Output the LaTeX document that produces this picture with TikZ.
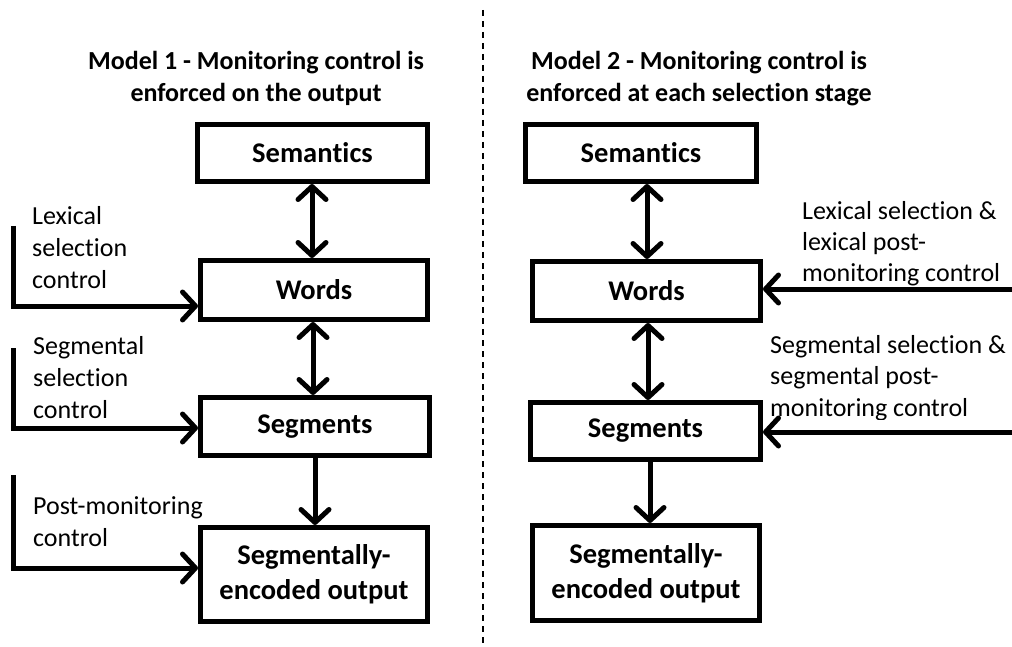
\documentclass[tikz,border=0pt]{standalone}
\usepackage{fontspec}
\setmainfont{Carlito}[Ligatures={NoCommon,NoContextual},Contextuals=NoAlternate]
\usetikzlibrary{arrows.meta,calc}
\newcommand\nolig{\kern0pt{}}
\begin{document}
\begin{tikzpicture}[x=1pt,y=-1pt,
  >={Straight Barb[length=13pt,width=28pt,line width=5pt,round]},
  box/.style={draw,line width=5pt,rectangle,inner sep=0pt,align=center,
    font=\fontsize{28.5}{35}\selectfont\bfseries},
  lbl/.style={anchor=north west,inner sep=0pt,align=left,
    font=\fontsize{26}{32}\selectfont},
  ttl/.style={anchor=north,inner sep=0pt,align=center,
    font=\fontsize{26}{32}\selectfont\bfseries},
  one/.style={line width=5pt,->},
  two/.style={line width=5pt,<->}
]
\useasboundingbox (0,0) rectangle (1012,647);

% divider
\coordinate (dtop) at (483,10);
\coordinate (dbot) at (483,645);
\draw[line width=2.5pt,dash pattern=on 6pt off 5pt] (dtop) -- (dbot);

% titles
\node[ttl] (t1) at (256,51) {Model 1 - Monitoring control is\\enforced on the output};
\node[ttl] (t2) at (699,51) {Model 2 - Monitoring control is\\enforced at each selec\nolig tion stage};

% model 1 boxes
\node[box,minimum width=230pt,minimum height=57pt] (s1) at (312.5,153) {Seman\nolig tics};
\node[box,minimum width=227pt,minimum height=59pt] (w1) at (314,290) {Words};
\node[box,minimum width=229pt,minimum height=58pt] (g1) at (315,426.5) {Segments};
\node[box,minimum width=227pt,minimum height=94pt] (o1) at (314,574.5) {Segmentally-\\encoded output};

% model 2 boxes
\node[box,minimum width=231pt,minimum height=57pt] (s2) at (641,153) {Seman\nolig tics};
\node[box,minimum width=228pt,minimum height=59pt] (w2) at (646.5,291) {Words};
\node[box,minimum width=230pt,minimum height=57pt] (g2) at (645.5,431) {Segments};
\node[box,minimum width=227pt,minimum height=95pt] (o2) at (646,573) {Segmentally-\\encoded output};

% vertical arrows model 1
\draw[two] (w1.north -| 312,0) -- (s1.south -| 312,0);
\draw[two] (g1.north -| 313,0) -- (w1.south -| 313,0);
\draw[one] (g1.south -| 315,0) -- (o1.north -| 315,0);

% vertical arrows model 2
\draw[two] (w2.north -| 647,0) -- (s2.south -| 647,0);
\draw[two] (g2.north -| 648,0) -- (w2.south -| 648,0);
\draw[one] (g2.south -| 650,0) -- (o2.north -| 650,0);

% model 1 control inputs
\coordinate (a1) at (13,226);
\coordinate (a1y) at (0,306);
\coordinate (a2) at (13,348);
\coordinate (a2y) at (0,428);
\coordinate (a3) at (13,475);
\coordinate (a3y) at (0,568);
\draw[one] (a1) |- (a1y -| w1.west);
\draw[one] (a2) |- (a2y -| g1.west);
\draw[one] (a3) |- (a3y -| o1.west);

\node[lbl] (l1) at (32,206) {Lexical\\selec\nolig tion\\control};
\node[lbl] (l2) at (33,336) {Segmental\\selec\nolig tion\\control};
\node[lbl] (l3) at (33,496) {Post-monitoring\\control};

% model 2 control inputs
\coordinate (b1) at (1012,289);
\coordinate (b2) at (1012,432);
\draw[one] (b1) -- (b1 -| w2.east);
\draw[one] (b2) -- (b2 -| g2.east);

\node[lbl,font=\fontsize{26}{31}\selectfont] (r1) at (802,201) {Lexical selec\nolig tion \&\\lexical post-\\monitoring control};
\begin{scope}
\clip (760,320) rectangle (1012,419);
\node[lbl,font=\fontsize{26}{31.5}\selectfont] (r2) at (770,335) {Segmental selec\nolig tion \&\\segmental post-\\monitoring control};
\end{scope}
\end{tikzpicture}
\end{document}
